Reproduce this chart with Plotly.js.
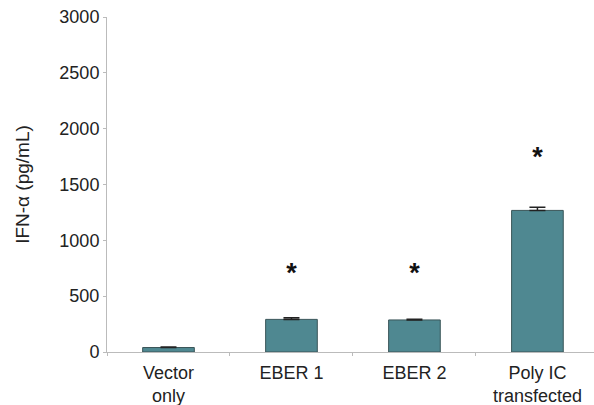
<!DOCTYPE html>
<html>
<head>
<meta charset="utf-8">
<script src="https://cdn.plot.ly/plotly-3.0.1.min.js"></script>
<style>html,body{margin:0;padding:0;background:#fff}#chart{width:594px;height:405px}</style>
</head>
<body>
<div id="chart"></div>
<script>
const categories = ["Vector<br>only", "EBER 1", "EBER 2", "Poly IC<br>transfected"];
const ifnValues = [40, 292, 287, 1268];
const ifnErrors = [4, 14, 6, 28];
const starCategories = ["EBER 1", "EBER 2", "Poly IC<br>transfected"];
const starY = [690, 690, 1725];
const starText = ["<b>*</b>", "<b>*</b>", "<b>*</b>"];

const bars = {
  type: "bar",
  x: categories,
  y: ifnValues,
  marker: {color: "#4f8891", line: {color: "#3a5558", width: 1}},
  width: 0.42,
  error_y: {type: "data", symmetric: false, array: ifnErrors, arrayminus: [0,0,0,0], color: "#222", thickness: 1.5, width: 8},
  hoverinfo: "none",
  showlegend: false
};
const stars = {
  type: "scatter",
  mode: "text",
  x: starCategories,
  y: starY,
  text: starText,
  textfont: {family: "Liberation Sans, Arial, sans-serif", size: 27, color: "#111"},
  showlegend: false,
  hoverinfo: "none"
};
const layout = {
  width: 594, height: 405,
  margin: {l: 107, r: 0, t: 17, b: 53},
  paper_bgcolor: "#fff", plot_bgcolor: "#fff",
  font: {family: "Liberation Sans, Arial, sans-serif", color: "#222", size: 18},
  xaxis: {
    type: "category",
    range: [-0.5, 3.46],
    showline: true, linecolor: "#bbb", linewidth: 1,
    ticks: "outside", tickson: "boundaries", ticklen: 3, tickcolor: "#bbb",
    showgrid: false, zeroline: false,
    ticklabelstandoff: 4,
    tickfont: {size: 18, color: "#222"}
  },
  yaxis: {
    range: [0, 3000],
    tickvals: [0, 500, 1000, 1500, 2000, 2500, 3000],
    showline: true, linecolor: "#bbb", linewidth: 1,
    ticks: "outside", ticklen: 3, tickcolor: "#bbb",
    showgrid: false, zeroline: false,
    tickfont: {size: 18, color: "#222"},
    title: {text: "IFN-α (pg/mL)", font: {size: 19, color: "#222"}, standoff: 24}
  },
  showlegend: false
};
Plotly.newPlot("chart", [bars, stars], layout, {staticPlot: true});
</script>
</body>
</html>
